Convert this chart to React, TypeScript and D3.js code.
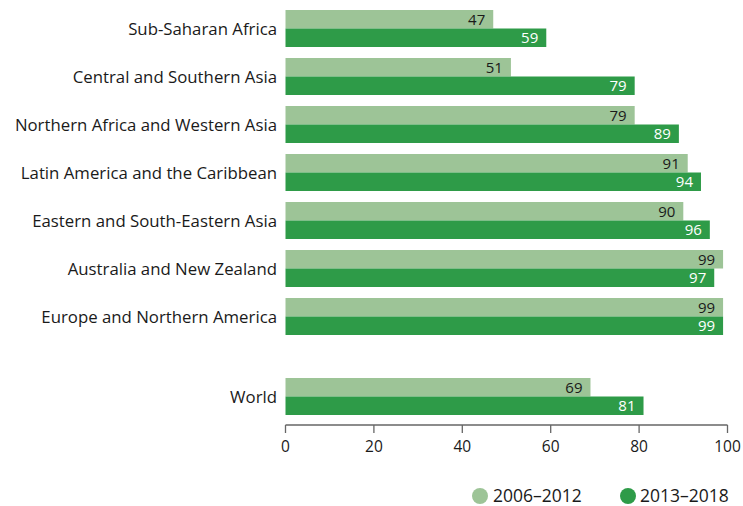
import React from "react";
import * as d3 from "d3";

const categories = [
  "Sub-Saharan Africa",
  "Central and Southern Asia",
  "Northern Africa and Western Asia",
  "Latin America and the Caribbean",
  "Eastern and South-Eastern Asia",
  "Australia and New Zealand",
  "Europe and Northern America",
  "World",
];
const series2006 = [47, 51, 79, 91, 90, 99, 99, 69];
const series2013 = [59, 79, 89, 94, 96, 97, 99, 81];
const seriesNames = ["2006–2012", "2013–2018"];
const ticks = [0, 20, 40, 60, 80, 100];

const LIGHT = "#9dc497";
const DARK = "#2e9b48";
const FONT = "'Open Sans', 'Noto Sans', sans-serif";

export default function App() {
  const W = 743, H = 506;
  const x = d3.scaleLinear().domain([0, 100]).range([285.5, 727.5]);
  const pitch = 48;
  const top = 10;
  const barH = 18.5;
  const yOf = (i: number) => {
    const idx = i === categories.length - 1 ? (i - 1) + 80 / pitch : i;
    return top + idx * pitch;
  };
  const axisY = 425;
  return (
    <svg width={W} height={H} style={{ position: "absolute", left: 0, top: 0, fontFamily: FONT }}>
      {categories.map((c, i) => {
        const y0 = yOf(i);
        return (
          <g key={c}>
            <rect x={x(0)} y={y0} width={x(series2006[i]) - x(0)} height={barH} fill={LIGHT} />
            <rect x={x(0)} y={y0 + barH} width={x(series2013[i]) - x(0)} height={barH} fill={DARK} />
            <text x={x(series2006[i]) - 8} y={y0 + barH / 2 + 5.3} textAnchor="end" fontSize={15} fill="#1a1a1a">{series2006[i]}</text>
            <text x={x(series2013[i]) - 8} y={y0 + barH * 1.5 + 5.3} textAnchor="end" fontSize={15} fill="#ffffff">{series2013[i]}</text>
            <text x={277} y={y0 + barH + 6} textAnchor="end" fontSize={16.8} fill="#1a1a1a">{c}</text>
          </g>
        );
      })}
      <line x1={x(0)} x2={x(100)} y1={axisY} y2={axisY} stroke="#666" strokeWidth={1.3} />
      {ticks.map((t) => (
        <g key={t}>
          <line x1={x(t)} x2={x(t)} y1={axisY} y2={axisY + 8} stroke="#666" strokeWidth={1.3} />
          <text x={x(t)} y={451.5} textAnchor="middle" fontSize={15.5} fill="#1a1a1a">{t}</text>
        </g>
      ))}
      <circle cx={480} cy={496} r={8} fill={LIGHT} />
      <text x={493} y={502} fontSize={17.5} fill="#1a1a1a">{seriesNames[0]}</text>
      <circle cx={628} cy={496} r={8} fill={DARK} />
      <text x={640} y={502} fontSize={17.5} fill="#1a1a1a">{seriesNames[1]}</text>
    </svg>
  );
}
